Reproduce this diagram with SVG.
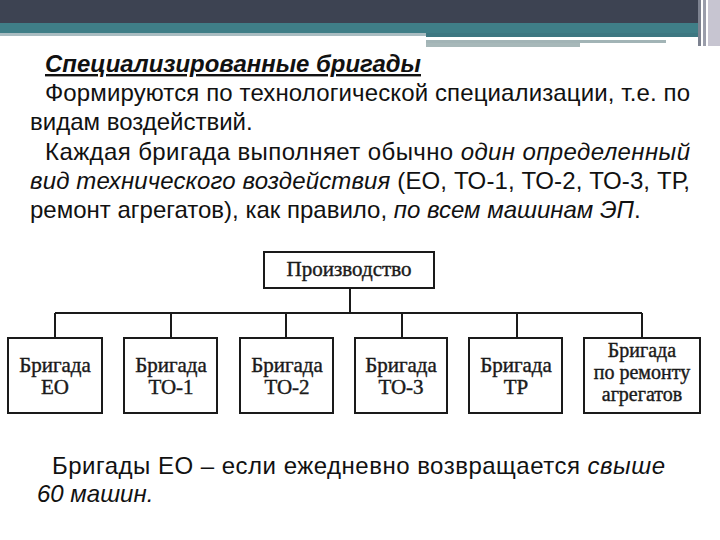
<svg xmlns="http://www.w3.org/2000/svg" width="720" height="540" viewBox="0 0 720 540">
<style>
.t{font-family:"Liberation Sans",Arial,sans-serif;font-size:24px;fill:#111}
.i{font-style:italic}
.h{font-weight:bold;font-style:italic;text-decoration:underline}
.box{fill:#fff;stroke:#1a1a1a;stroke-width:2}
.bt{font-family:"Liberation Serif","Times New Roman",serif;font-size:21px;fill:#1a1a1a;stroke:#1a1a1a;stroke-width:0.4;text-anchor:middle}
.sm{font-size:20px}
.ln{stroke:#1a1a1a;stroke-width:2;fill:none}
</style>
<rect width="720" height="540" fill="#fff"/>
<g id="header">
<rect x="0" y="0" width="700" height="23" fill="#3d4352"/>
<rect x="0" y="23" width="700" height="10" fill="#3f7e87"/>
<rect x="0" y="33" width="426" height="3" fill="#a9bcc1"/>
<rect x="426" y="33" width="274" height="4" fill="#3d7781"/>
<rect x="426" y="40" width="240" height="3" fill="#a2b4b6"/>
<rect x="426" y="43" width="154" height="4" fill="#a7b8b9"/>
<rect x="698" y="0" width="3" height="46" fill="#7d8290"/>
<rect x="703" y="0" width="3" height="46" fill="#9a9daa"/>
<rect x="708" y="0" width="12" height="46" fill="#c7c5d1"/>
</g>
<g id="text-top">
<text class="t h" x="45" y="72" textLength="376" lengthAdjust="spacingAndGlyphs">Специализированные бригады</text>
<text class="t" x="45" y="101" textLength="645" lengthAdjust="spacing">Формируются по технологической специализации, т.е. по</text>
<text class="t" x="30" y="130">видам воздействий.</text>
<text class="t" x="45" y="160" textLength="645" lengthAdjust="spacing">Каждая бригада выполняет обычно <tspan class="i">один определенный</tspan></text>
<text class="t" x="30" y="189" textLength="660" lengthAdjust="spacing"><tspan class="i">вид технического воздействия</tspan> (ЕО, ТО-1, ТО-2, ТО-3, ТР,</text>
<text class="t" x="30" y="218">ремонт агрегатов), как правило, <tspan class="i">по всем машинам ЭП</tspan>.</text>
</g>
<g id="connectors">
<line class="ln" x1="350" y1="288" x2="350" y2="313"/>
<line class="ln" x1="55" y1="313" x2="642" y2="313"/>
<line class="ln" x1="55" y1="313" x2="55" y2="338"/>
<line class="ln" x1="171" y1="313" x2="171" y2="338"/>
<line class="ln" x1="286" y1="313" x2="286" y2="338"/>
<line class="ln" x1="402" y1="313" x2="402" y2="338"/>
<line class="ln" x1="517" y1="313" x2="517" y2="338"/>
<line class="ln" x1="642" y1="313" x2="642" y2="338"/>
</g>
<g id="node-prod"><rect class="box" x="264" y="252" width="170" height="36"/><text class="bt" x="349" y="276">Производство</text></g>
<g id="node-eo"><rect class="box" x="8" y="338" width="94" height="75"/><text class="bt" x="55" y="372">Бригада</text><text class="bt" x="55" y="394">ЕО</text></g>
<g id="node-to1"><rect class="box" x="124" y="338" width="93" height="75"/><text class="bt" x="171" y="372">Бригада</text><text class="bt" x="171" y="394">ТО-1</text></g>
<g id="node-to2"><rect class="box" x="240" y="338" width="93" height="75"/><text class="bt" x="287" y="372">Бригада</text><text class="bt" x="287" y="394">ТО-2</text></g>
<g id="node-to3"><rect class="box" x="355" y="338" width="92" height="75"/><text class="bt" x="401" y="372">Бригада</text><text class="bt" x="401" y="394">ТО-3</text></g>
<g id="node-tr"><rect class="box" x="469" y="338" width="93" height="75"/><text class="bt" x="516" y="372">Бригада</text><text class="bt" x="516" y="394">ТР</text></g>
<g id="node-rem"><rect class="box" x="584" y="338" width="116" height="75"/><text class="bt sm" x="642" y="357">Бригада</text><text class="bt sm" x="642" y="379">по ремонту</text><text class="bt sm" x="642" y="401">агрегатов</text></g>
<g id="text-bottom">
<text class="t" x="52" y="474" textLength="613" lengthAdjust="spacing">Бригады ЕО – если ежедневно возвращается <tspan class="i">свыше</tspan></text>
<text class="t i" x="37" y="502">60 машин.</text>
</g>
</svg>
